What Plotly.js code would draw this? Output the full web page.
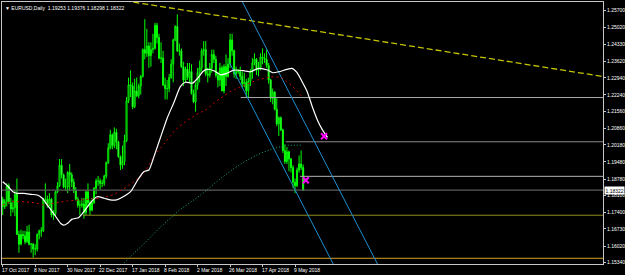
<!DOCTYPE html>
<html><head><meta charset="utf-8">
<script src="https://cdn.plot.ly/plotly-3.0.1.min.js"></script>
<style>html,body{margin:0;padding:0;background:#000;}#chart{width:625px;height:275px;}</style>
</head><body><div id="chart"></div>
<script>
// ---- daily bars (EURUSD, Daily) ----
const dates = ["2017-10-17","2017-10-18","2017-10-19","2017-10-20","2017-10-23","2017-10-24","2017-10-25","2017-10-26","2017-10-27","2017-10-30",
"2017-10-31","2017-11-01","2017-11-02","2017-11-03","2017-11-06","2017-11-07","2017-11-08","2017-11-09","2017-11-10","2017-11-13",
"2017-11-14","2017-11-15","2017-11-16","2017-11-17","2017-11-20","2017-11-21","2017-11-22","2017-11-23","2017-11-24","2017-11-27",
"2017-11-28","2017-11-29","2017-11-30","2017-12-01","2017-12-04","2017-12-05","2017-12-06","2017-12-07","2017-12-08","2017-12-11",
"2017-12-12","2017-12-13","2017-12-14","2017-12-15","2017-12-18","2017-12-19","2017-12-20","2017-12-21","2017-12-22","2017-12-26",
"2017-12-27","2017-12-28","2017-12-29","2018-01-02","2018-01-03","2018-01-04","2018-01-05","2018-01-08","2018-01-09","2018-01-10",
"2018-01-11","2018-01-12","2018-01-15","2018-01-16","2018-01-17","2018-01-18","2018-01-19","2018-01-22","2018-01-23","2018-01-24",
"2018-01-25","2018-01-26","2018-01-29","2018-01-30","2018-01-31","2018-02-01","2018-02-02","2018-02-05","2018-02-06","2018-02-07",
"2018-02-08","2018-02-09","2018-02-12","2018-02-13","2018-02-14","2018-02-15","2018-02-16","2018-02-19","2018-02-20","2018-02-21",
"2018-02-22","2018-02-23","2018-02-26","2018-02-27","2018-02-28","2018-03-01","2018-03-02","2018-03-05","2018-03-06","2018-03-07",
"2018-03-08","2018-03-09","2018-03-12","2018-03-13","2018-03-14","2018-03-15","2018-03-16","2018-03-19","2018-03-20","2018-03-21",
"2018-03-22","2018-03-23","2018-03-26","2018-03-27","2018-03-28","2018-03-29","2018-03-30","2018-04-02","2018-04-03","2018-04-04",
"2018-04-05","2018-04-06","2018-04-09","2018-04-10","2018-04-11","2018-04-12","2018-04-13","2018-04-16","2018-04-17","2018-04-18",
"2018-04-19","2018-04-20","2018-04-23","2018-04-24","2018-04-25","2018-04-26","2018-04-27","2018-04-30","2018-05-01","2018-05-02",
"2018-05-03","2018-05-04","2018-05-07","2018-05-08","2018-05-09","2018-05-10","2018-05-11","2018-05-14","2018-05-15"];
const openP = [1.1795,1.1765,1.1785,1.1850,1.1780,1.1755,1.1760,1.1815,1.1650,1.1610,
1.1650,1.1645,1.1620,1.1660,1.1610,1.1610,1.1590,1.1590,1.1650,1.1665,
1.1665,1.1795,1.1795,1.1770,1.1795,1.1730,1.1735,1.1825,1.1850,1.1935,
1.1895,1.1845,1.1845,1.1905,1.1895,1.1865,1.1830,1.1795,1.1770,1.1770,
1.1775,1.1740,1.1825,1.1780,1.1750,1.1780,1.1840,1.1870,1.1870,1.1860,
1.1860,1.1890,1.1945,1.2005,1.2060,1.2015,1.2070,1.2030,1.1970,1.1935,
1.1950,1.2035,1.2200,1.2265,1.2260,1.2175,1.2240,1.2220,1.2260,1.2300,
1.2410,1.2395,1.2425,1.2385,1.2410,1.2415,1.2510,1.2460,1.2375,1.2375,
1.2265,1.2250,1.2250,1.2295,1.2350,1.2450,1.2505,1.2405,1.2405,1.2340,
1.2285,1.2330,1.2295,1.2320,1.2230,1.2195,1.2265,1.2315,1.2335,1.2405,
1.2410,1.2310,1.2305,1.2335,1.2390,1.2370,1.2305,1.2285,1.2335,1.2240,
1.2340,1.2300,1.2350,1.2450,1.2405,1.2310,1.2320,1.2320,1.2300,1.2270,
1.2275,1.2240,1.2280,1.2320,1.2355,1.2370,1.2325,1.2330,1.2380,1.2375,
1.2370,1.2345,1.2285,1.2210,1.2235,1.2165,1.2105,1.2130,1.2080,1.1995,
1.1950,1.1990,1.1960,1.1925,1.1865,1.1850,1.1915,1.1940,1.19253];
const highP = [1.1805,1.1795,1.1860,1.1860,1.1800,1.1790,1.1830,1.1880,1.1665,1.1670,
1.1665,1.1665,1.1685,1.1690,1.1615,1.1615,1.1610,1.1655,1.1670,1.1680,
1.1800,1.1860,1.1810,1.1820,1.1800,1.1750,1.1830,1.1865,1.1960,1.1960,
1.1900,1.1880,1.1910,1.1940,1.1905,1.1880,1.1845,1.1805,1.1790,1.1800,
1.1800,1.1830,1.1860,1.1790,1.1800,1.1845,1.1880,1.1890,1.1880,1.1875,
1.1895,1.1950,1.2025,1.2080,1.2065,1.2090,1.2085,1.2035,1.1975,1.2015,
1.2060,1.2215,1.2295,1.2325,1.2275,1.2290,1.2295,1.2270,1.2305,1.2415,
1.2535,1.2495,1.2440,1.2440,1.2475,1.2520,1.2520,1.2475,1.2440,1.2405,
1.2295,1.2285,1.2310,1.2370,1.2455,1.2510,1.2555,1.2435,1.2415,1.2360,
1.2340,1.2355,1.2355,1.2350,1.2245,1.2275,1.2335,1.2365,1.2415,1.2445,
1.2445,1.2335,1.2355,1.2410,1.2410,1.2385,1.2320,1.2355,1.2345,1.2350,
1.2390,1.2375,1.2475,1.2475,1.2410,1.2340,1.2330,1.2340,1.2320,1.2315,
1.2290,1.2295,1.2330,1.2375,1.2395,1.2375,1.2360,1.2395,1.2415,1.2395,
1.2410,1.2355,1.2290,1.2250,1.2240,1.2210,1.2135,1.2135,1.2085,1.2020,
1.2010,1.1995,1.1965,1.1935,1.1880,1.1925,1.1975,1.1995,1.19376];
const lowP = [1.1730,1.1755,1.1765,1.1775,1.1725,1.1740,1.1725,1.1650,1.1575,1.1605,
1.1630,1.1610,1.1615,1.1605,1.1575,1.1555,1.1565,1.1580,1.1630,1.1640,
1.1660,1.1775,1.1760,1.1765,1.1720,1.1710,1.1725,1.1820,1.1845,1.1880,
1.1840,1.1830,1.1820,1.1830,1.1845,1.1820,1.1790,1.1760,1.1730,1.1760,
1.1715,1.1730,1.1765,1.1730,1.1745,1.1775,1.1815,1.1850,1.1835,1.1845,
1.1850,1.1880,1.1940,1.2000,1.2000,1.2005,1.2000,1.1965,1.1915,1.1920,
1.1935,1.2030,1.2190,1.2215,1.2165,1.2170,1.2215,1.2210,1.2225,1.2295,
1.2370,1.2380,1.2335,1.2340,1.2395,1.2410,1.2435,1.2370,1.2355,1.2260,
1.2205,1.2205,1.2235,1.2290,1.2275,1.2445,1.2400,1.2385,1.2335,1.2260,
1.2275,1.2285,1.2275,1.2225,1.2190,1.2155,1.2245,1.2275,1.2320,1.2385,
1.2300,1.2275,1.2295,1.2315,1.2355,1.2295,1.2255,1.2260,1.2240,1.2230,
1.2260,1.2295,1.2335,1.2385,1.2295,1.2290,1.2310,1.2285,1.2255,1.2255,
1.2215,1.2215,1.2260,1.2290,1.2345,1.2305,1.2300,1.2325,1.2350,1.2355,
1.2335,1.2270,1.2195,1.2185,1.2160,1.2095,1.2055,1.2075,1.1985,1.1940,
1.1940,1.1910,1.1905,1.1840,1.1820,1.1845,1.1905,1.1915,1.18298];
const closeP = [1.1765,1.1785,1.1850,1.1785,1.1755,1.1760,1.1815,1.1650,1.1610,1.1650,
1.1645,1.1620,1.1660,1.1610,1.1610,1.1590,1.1590,1.1650,1.1665,1.1665,
1.1795,1.1795,1.1770,1.1795,1.1730,1.1735,1.1825,1.1850,1.1935,1.1895,
1.1845,1.1845,1.1905,1.1895,1.1865,1.1830,1.1795,1.1770,1.1770,1.1775,
1.1740,1.1825,1.1780,1.1750,1.1780,1.1840,1.1870,1.1870,1.1860,1.1860,
1.1890,1.1945,1.2005,1.2060,1.2015,1.2070,1.2030,1.1970,1.1935,1.1950,
1.2035,1.2200,1.2265,1.2260,1.2175,1.2240,1.2220,1.2260,1.2300,1.2410,
1.2395,1.2425,1.2385,1.2410,1.2415,1.2510,1.2460,1.2375,1.2375,1.2265,
1.2250,1.2250,1.2295,1.2350,1.2450,1.2505,1.2405,1.2405,1.2340,1.2285,
1.2330,1.2295,1.2320,1.2230,1.2195,1.2265,1.2315,1.2335,1.2405,1.2410,
1.2310,1.2305,1.2335,1.2390,1.2370,1.2305,1.2285,1.2335,1.2240,1.2340,
1.2300,1.2350,1.2450,1.2405,1.2310,1.2320,1.2320,1.2300,1.2270,1.2275,
1.2240,1.2280,1.2320,1.2355,1.2370,1.2325,1.2330,1.2380,1.2375,1.2370,
1.2345,1.2285,1.2210,1.2235,1.2165,1.2105,1.2130,1.2080,1.1995,1.1950,
1.1990,1.1960,1.1925,1.1865,1.1850,1.1915,1.1940,1.1925,1.18322];

// ---- x-axis labels ----
const tickDates = ["2017-10-17","2017-11-08","2017-11-30","2017-12-22","2018-01-17","2018-02-08","2018-03-02","2018-03-26","2018-04-17","2018-05-09"];
const tickLabels = ["17 Oct 2017","8 Nov 2017","30 Nov 2017","22 Dec 2017","17 Jan 2018","8 Feb 2018","2 Mar 2018","26 Mar 2018","17 Apr 2018","9 May 2018"];
// ---- y-axis labels ----
const priceTicks = [1.25700,1.25020,1.24330,1.23620,1.22940,1.22240,1.21560,1.20860,1.20180,1.19480,1.18780,1.18100,1.17400,1.16730,1.16020,1.15340];

// ---- moving averages (bar index, price) ----
const maWhiteIdx = [0,2,5,7,10.5,14,17,19.5,22,25,28.5,30,32,34,37.5,40,43,46.5,50,53,56,58,63,66.5,69.5,72,74.5,77,81,84.5,87.5,90,93.5,96,98.5,100.5,104,107.5,110.5,114,119,122,126,130.5,133,136,140,142.5,145,147.5,150,152.5,155,157.5,160];
const maWhiteVal = [1.1867,1.1853,1.1826,1.1819,1.1819,1.1815,1.1812,1.1799,1.1771,1.1737,1.1696,1.1688,1.1696,1.1712,1.1720,1.1744,1.1778,1.1805,1.1799,1.1792,1.1792,1.1799,1.1826,1.1874,1.1908,1.1915,1.1970,1.2031,1.2128,1.2196,1.2258,1.2276,1.2272,1.2292,1.2319,1.2329,1.2323,1.2306,1.2313,1.2326,1.2323,1.2319,1.2333,1.2326,1.2315,1.2319,1.2329,1.2333,1.2315,1.2278,1.2237,1.2175,1.2121,1.2080,1.2049];
const maRedIdx = [0,4,9,15.5,20,25,32,38,45,48,55,61,68,71,75,80,85,90,95,100,106,112,119,125.5,132,137,141,145,147.5];
const maRedVal = [1.1771,1.1785,1.1785,1.1781,1.1771,1.1778,1.1788,1.1792,1.1799,1.1799,1.1815,1.1845,1.1887,1.1922,1.1977,1.2031,1.2080,1.2114,1.2141,1.2162,1.2203,1.2237,1.2264,1.2285,1.2299,1.2296,1.2272,1.2240,1.2216];
const maGreenIdx = [58,62,70,77,87,97.5,102.5,107.5,114,120.5,127,133.5,137,139.5,147.5];
const maGreenVal = [1.1515,1.1552,1.1615,1.1675,1.1750,1.1812,1.1846,1.1881,1.1922,1.1956,1.1984,1.2004,1.2011,1.2017,1.2017];

// ---- drawn objects ----
const trendYellow = {idx:[60,296], price:[1.26111,1.2299]};
const channelA = {idx:[116,186], price:[1.2640,1.1506]};
const channelB = {idx:[111.8,165], price:[1.2355,1.1493]};
const levelPrices = [1.2213,1.2031,1.1889,1.18322,1.1729,1.1552];
const levelStart  = [117.2,139.4,146.5,-1,39.5,-1];
const levelColors = ['#a8a8a8','#8c8c8c','#b4b4b4','#5c5c5c','#8c8c1c','#d4a020'];
const markIdx = [158.3,149.3];
const markVal = [1.2054,1.1873];

const lastPrice = closeP[closeP.length-1];
const idx = dates.map((d,i)=>i);
const tickIdx = tickDates.map(d=>dates.indexOf(d));
const xMax = 295.7, xMin = -0.35;

const traces = [];
levelPrices.forEach((p,i)=>{
  traces.push({type:'scatter',mode:'lines',x:[levelStart[i],xMax+1],y:[p,p],
    line:{color:levelColors[i],width:i===3?1.2:1},hoverinfo:'skip',showlegend:false});
});
traces.push({type:'scatter',mode:'lines',x:trendYellow.idx,y:trendYellow.price,line:{color:'#c4c400',width:1.3,dash:'6px,3px'},hoverinfo:'skip'});
traces.push({type:'scatter',mode:'lines',x:channelA.idx,y:channelA.price,line:{color:'#1f8fd2',width:1},hoverinfo:'skip'});
traces.push({type:'scatter',mode:'lines',x:channelB.idx,y:channelB.price,line:{color:'#1f8fd2',width:1},hoverinfo:'skip'});
traces.push({type:'scatter',mode:'lines',x:maGreenIdx,y:maGreenVal,line:{color:'#1fa878',width:1,dash:'1px,2px'},hoverinfo:'skip'});
traces.push({type:'scatter',mode:'lines',x:maRedIdx,y:maRedVal,line:{color:'#c80000',width:1,dash:'2px,3px'},hoverinfo:'skip'});
traces.push({type:'candlestick',x:idx,open:openP,high:highP,low:lowP,close:closeP,
  increasing:{line:{color:'#00ff00',width:1},fillcolor:'#000000'},
  decreasing:{line:{color:'#00ff00',width:1},fillcolor:'#e8ffe8'},
  whiskerwidth:0,hoverinfo:'skip'});
traces.push({type:'scatter',mode:'lines',x:maWhiteIdx,y:maWhiteVal,line:{color:'#ffffff',width:1.2,shape:'spline',smoothing:0.6},hoverinfo:'skip'});
traces.push({type:'scatter',mode:'markers',x:markIdx,y:markVal,marker:{symbol:'x-thin',size:6,line:{color:'#ff00ff',width:2}},hoverinfo:'skip'});

const fam = 'Liberation Sans, Arial, sans-serif';
const fnt = {family:fam,size:5,color:'#ffffff'};
const xLabelAnns = tickIdx.map((ix,i)=>({xref:'x',yref:'paper',x:ix,y:0,xanchor:'left',yanchor:'top',
  text:tickLabels[i],showarrow:false,font:fnt,xshift:-2,yshift:-1.5,borderpad:0}));
const layout = {
  width:625,height:275,
  paper_bgcolor:'#000000',plot_bgcolor:'#000000',
  margin:{l:2,r:22,t:2,b:11},
  showlegend:false,
  xaxis:{range:[xMin,xMax],showgrid:false,zeroline:false,showline:true,mirror:true,linecolor:'#c8c8c8',linewidth:1,
    tickvals:tickIdx,showticklabels:false,ticks:'outside',ticklen:2,tickcolor:'#c8c8c8',
    rangeslider:{visible:false},fixedrange:true,automargin:false},
  yaxis:{side:'right',range:[1.15285,1.26058],showgrid:false,zeroline:false,showline:true,mirror:true,linecolor:'#c8c8c8',linewidth:1,
    tickvals:priceTicks,ticktext:priceTicks.map(v=>v.toFixed(5)),ticks:'outside',ticklen:2,tickcolor:'#c8c8c8',tickfont:fnt,
    fixedrange:true,automargin:false},
  annotations:[
    {xref:'paper',yref:'y',x:1,y:lastPrice,xanchor:'left',yanchor:'middle',text:lastPrice.toFixed(5),showarrow:false,
     bgcolor:'#ffffff',font:{family:fam,size:5,color:'#000000'},borderpad:0.5,xshift:1},
    {xref:'paper',yref:'paper',x:0,y:1,xanchor:'left',yanchor:'top',showarrow:false,xshift:1,yshift:-1,
     text:'▼ EURUSD,Daily  '+[openP,highP,lowP,closeP].map(a=>a[a.length-1].toFixed(5)).join(' '),
     font:{family:fam,size:5,color:'#ffffff'}}
  ].concat(xLabelAnns)
};
Plotly.newPlot('chart',traces,layout,{displayModeBar:false,staticPlot:true});
</script></body></html>
